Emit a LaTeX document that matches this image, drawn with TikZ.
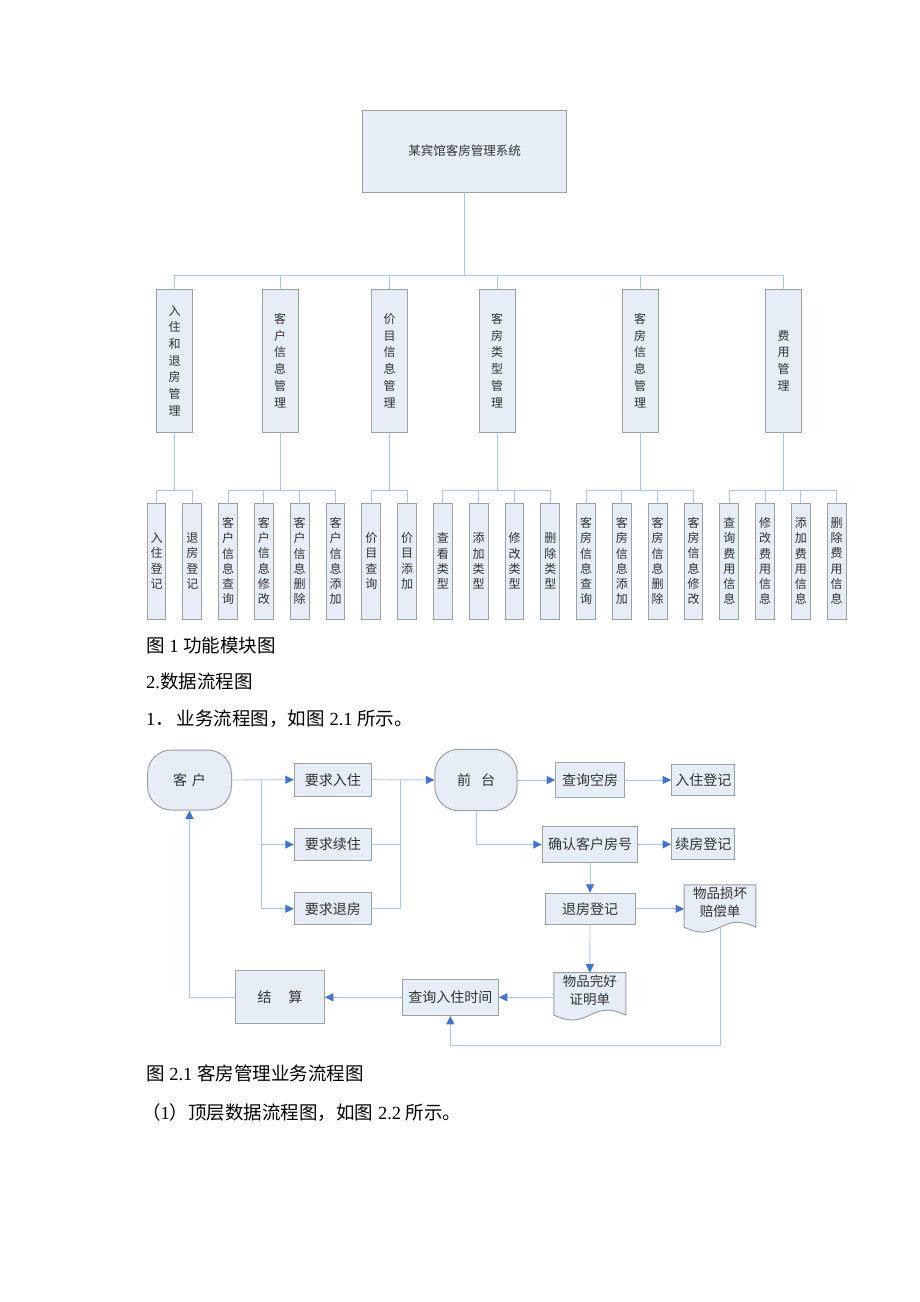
\documentclass[tikz,border=0pt]{standalone}
\usepackage{fontspec}
\setmainfont{Liberation Serif}
\newfontfamily\cjk{Noto Sans CJK SC}
\usepackage{xcolor}
\usepackage{tikz}
\usetikzlibrary{positioning, calc, arrows.meta}

\definecolor{boxfill}{RGB}{231,237,246}
\definecolor{boxline}{RGB}{160,160,160}
\definecolor{linkblue}{RGB}{176,198,230}
\definecolor{tipblue}{RGB}{70,116,196}
\definecolor{txtgray}{RGB}{50,50,50}

\tikzset{
  sysbox/.style={draw=boxline, fill=boxfill, line width=1pt, minimum width=204pt, minimum height=82pt, font=\cjk\fontsize{12.5}{15}\selectfont, text=txtgray},
  modbox/.style={draw=boxline, fill=boxfill, line width=1pt, minimum width=36pt, minimum height=143pt, inner sep=0pt, align=center, font=\cjk\fontsize{12}{16.7}\selectfont, text=txtgray},
  funbox/.style={draw=boxline, fill=boxfill, line width=1pt, minimum width=18.7pt, minimum height=116pt, inner sep=0pt, align=center, font=\cjk\fontsize{12}{15.2}\selectfont, text=txtgray},
  tline/.style={draw=linkblue, line width=0.9pt},
  flowbox/.style={draw=boxline, fill=boxfill, line width=1pt, inner sep=0pt, font=\cjk\fontsize{14}{16}\selectfont, text=txtgray},
  roundbox/.style={flowbox, rounded corners=24pt},
  docbox/.style={inner sep=0pt, minimum width=71.5pt, minimum height=42pt},
  docline/.style={draw=boxline, fill=boxfill, line width=1pt},
  doctext/.style={align=center, inner sep=0pt, font=\cjk\fontsize{13.5}{18.4}\selectfont, text=txtgray},
  farrow/.style={tline, -{Triangle[length=8.5pt, width=8pt, color=tipblue]}},
  caption/.style={anchor=west, inner sep=0pt, font=\fontsize{18.5}{22}\selectfont},
}

\begin{document}
\begin{tikzpicture}[x=1pt, y=-1pt]
  \path[fill=white] (0,0) rectangle (920,1302);
  \useasboundingbox (0,0) rectangle (920,1302);

  % function modules
  \node[sysbox] (sys) at (464.5,151) {某宾馆客房管理系统};
  \node[modbox] (m1) at (174.7,360.5) {入\\住\\和\\退\\房\\管\\理};
  \node[modbox] (m2) at (280,360.5) {客\\户\\信\\息\\管\\理};
  \node[modbox] (m3) at (389.7,360.5) {价\\目\\信\\息\\管\\理};
  \node[modbox] (m4) at (497,360.5) {客\\房\\类\\型\\管\\理};
  \node[modbox] (m5) at (640,360.5) {客\\房\\信\\息\\管\\理};
  \node[modbox] (m6) at (783.7,360.5) {费\\用\\管\\理};
  \coordinate (bus1) at (0,275);
  \coordinate (bus2) at (0,490);
  \foreach \m in {m1,m2,m3,m4,m5,m6}
    \draw[tline] (sys.south) -- (sys.south |- bus1) -| (\m.north);

  \foreach \t [count=\i from 0] in {{入\\住\\登\\记}, {退\\房\\登\\记},
      {客\\户\\信\\息\\查\\询}, {客\\户\\信\\息\\修\\改}, {客\\户\\信\\息\\删\\除}, {客\\户\\信\\息\\添\\加},
      {价\\目\\查\\询}, {价\\目\\添\\加},
      {查\\看\\类\\型}, {添\\加\\类\\型}, {修\\改\\类\\型}, {删\\除\\类\\型},
      {客\\房\\信\\息\\查\\询}, {客\\房\\信\\息\\添\\加}, {客\\房\\信\\息\\删\\除}, {客\\房\\信\\息\\修\\改},
      {查\\询\\费\\用\\信\\息}, {修\\改\\费\\用\\信\\息}, {添\\加\\费\\用\\信\\息}, {删\\除\\费\\用\\信\\息}}
    \node[funbox] (f\i) at (156.5+35.8*\i,561) {\t};
  \foreach \p/\c in {m1/0, m1/1, m2/2, m2/3, m2/4, m2/5, m3/6, m3/7, m4/8, m4/9, m4/10, m4/11,
      m5/12, m5/13, m5/14, m5/15, m6/16, m6/17, m6/18, m6/19}
    \draw[tline] (\p.south) -- (\p.south |- bus2) -| (f\c.north);

  % captions
  \node[caption] (cap1) at (146,645) {{\cjk 图} 1 {\cjk 功能模块图}};
  \node[caption] (cap2) at (146,681) {2.{\cjk 数据流程图}};
  \node[caption] (cap3) at (146,719) {1{\cjk ．\hspace{3pt}业务流程图，如图} 2.1 {\cjk 所示。}};

  % business flow
  \node[roundbox, minimum width=84pt, minimum height=60pt] (kehu) at (189.5,780) {客\hspace{5pt}户};
  \node[flowbox, minimum width=77pt, minimum height=32.7pt] (rq1) at (332.8,779.7) {要求入住};
  \node[flowbox, minimum width=77pt, minimum height=32.4pt] (rq2) at (332.8,844.5) {要求续住};
  \node[flowbox, minimum width=77pt, minimum height=32.3pt] (rq3) at (332.8,908.8) {要求退房};
  \node[roundbox, minimum width=82.3pt, minimum height=61.4pt] (qt) at (476,780) {前\hspace{10pt}台};
  \node[flowbox, minimum width=68.6pt, minimum height=34.6pt] (kf) at (590,780) {查询空房};
  \node[flowbox, minimum width=63.3pt, minimum height=31.4pt] (rz) at (703.3,780) {入住登记};
  \node[flowbox, minimum width=95.4pt, minimum height=35.6pt] (qr) at (590,844.5) {确认客户房号};
  \node[flowbox, minimum width=63.3pt, minimum height=31.3pt] (xf) at (703.3,844.3) {续房登记};
  \node[flowbox, minimum width=90pt, minimum height=31pt] (tf) at (590,908.8) {退房登记};
  \node[flowbox, minimum width=88.6pt, minimum height=53.3pt] (js) at (280,997.3) {结\hspace{17pt}算};
  \node[flowbox, minimum width=96pt, minimum height=36pt] (sj) at (450.3,997.3) {查询入住时间};

  % documents
  \node[docbox] (sh) at (720,906) {};
  \draw[docline] (sh.north west) -- (sh.north east) -- (sh.south east)
    .. controls ($(sh.south)+(0,-17)$) and ($(sh.south)+(0,17)$) .. (sh.south west) -- cycle;
  \node[doctext] (sht) at (sh) [yshift=3.5pt] {物品损坏\\赔偿单};
  \node[docbox] (wh) at (589.85,993.85) {};
  \draw[docline] (wh.north west) -- (wh.north east) -- (wh.south east)
    .. controls ($(wh.south)+(0,-17)$) and ($(wh.south)+(0,17)$) .. (wh.south west) -- cycle;
  \node[doctext] (wht) at (wh) [yshift=3.8pt] {物品完好\\证明单};

  \coordinate (b1) at (261.7,780);
  \coordinate (b2) at (400.7,780);
  \coordinate (b3) at (720,1045.7);
  \draw[farrow] (kehu.east) -- (rq1.west);
  \draw[farrow] (b1) |- (rq2.west);
  \draw[farrow] (b1) |- (rq3.west);
  \draw[farrow] (rq1.east) -- (qt.west);
  \draw[tline] (rq2.east) -| (b2);
  \draw[tline] (rq3.east) -| (b2);
  \draw[farrow] (qt.east) -- (kf.west);
  \draw[farrow] (kf.east) -- (rz.west);
  \draw[farrow] (qt.south) |- (qr.west);
  \draw[farrow] (qr.east) -- (xf.west);
  \draw[farrow] (qr.south) -- (tf.north);
  \draw[farrow] (tf.east) -- (tf.east -| sh.west);
  \draw[farrow] (tf.south) -- (wh.north);
  \draw[farrow] (wh.west |- sj.east) -- (sj.east);
  \draw[farrow] (sj.west) -- (js.east);
  \draw[farrow] (js.west) -| (kehu.south);
  \draw[farrow] (sh.south) -- (b3) -| (sj.south);

  \node[caption] (cap4) at (146,1073) {{\cjk 图} 2.1 {\cjk 客房管理业务流程图}};
  \node[caption] (cap5) at (142,1113) {{\cjk （}1{\cjk ）顶层数据流程图，如图} 2.2 {\cjk 所示。}};
\end{tikzpicture}
\end{document}
